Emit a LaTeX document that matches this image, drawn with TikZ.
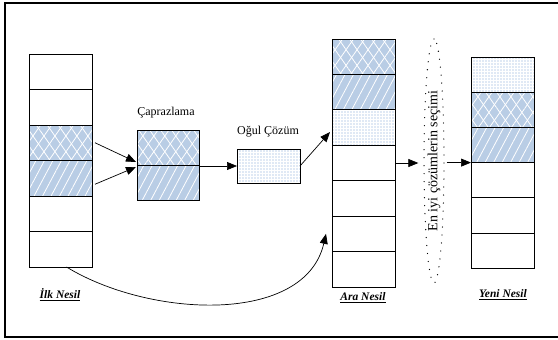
\documentclass[tikz,border=0pt]{standalone}
\usepackage{fontspec}
\setmainfont{Liberation Serif}
\usetikzlibrary{patterns.meta,arrows.meta,shapes.geometric,calc}
\definecolor{cellblue}{RGB}{185,205,229}
\definecolor{dotblue}{RGB}{120,158,212}
\begin{document}
\begin{tikzpicture}[x=1pt,y=-1pt,
  cell/.style={draw,line width=0.9pt,minimum width=63pt,minimum height=35.4pt,inner sep=0pt,outer sep=0pt},
  hatch/.style={preaction={fill=cellblue},
    preaction={pattern={Lines[angle=55,distance=9pt,line width=0.8pt]},pattern color=white},
    preaction={pattern={Lines[angle=-55,distance=9pt,line width=0.8pt]},pattern color=white}},
  diag/.style={preaction={fill=cellblue},
    preaction={pattern={Lines[angle=62,distance=7.5pt,line width=0.8pt]},pattern color=white}},
  dotty/.style={preaction={pattern={Dots[distance=3pt,radius=0.65pt]},pattern color=dotblue}},
  conn/.style={line width=0.7pt,-{Triangle[length=10pt,width=8pt]}},
  lbl/.style={font=\fontsize{11.5}{13}\selectfont\bfseries\itshape},
  txt/.style={font=\fontsize{12}{14}\selectfont}
]
\useasboundingbox (0,0) rectangle (558,340);
\draw[line width=2pt] (558,3) -- (5,3) -- (5,337) -- (558,337);

% Ilk Nesil
\foreach \i/\s in {1/,2/,3/hatch,4/diag,5/,6/}{
  \node[cell,minimum height=35.5pt,\s] (i\i) at (60.5,{54+(\i-0.5)*35.5}) {};
}
\node[lbl] (li) at (60,295) {\underline{İlk Nesil}};

% Caprazlama
\node[cell,minimum width=62pt,minimum height=35pt,hatch] (c1) at (168,147.5) {};
\node[cell,minimum width=62pt,minimum height=35pt,diag] (c2) at (168,182.5) {};
\node[txt] (lc) at (166,113) {Çaprazlama};

% Ogul Cozum
\node[cell,minimum width=63pt,minimum height=34pt,dotty] (og) at (268.5,166) {};
\node[txt] (lo) at (268,132) {Oğul Çözüm};

% Ara Nesil
\foreach \i/\s in {1/hatch,2/diag,3/dotty,4/,5/,6/,7/}{
  \node[cell,minimum height=35.43pt,\s] (a\i) at (363.5,{39+(\i-0.5)*35.43}) {};
}
\node[lbl] (la) at (363,298) {\underline{Ara Nesil}};

% Ellipse
\node[ellipse,draw,line width=1.3pt,dash pattern=on 0pt off 8pt,line cap=round,
  minimum width=244pt,minimum height=20pt,inner sep=0pt,rotate=90,
  font=\fontsize{14}{16}\selectfont] (el) at (434,161) {En iyi çözümlerin seçimi};

% Yeni Nesil
\foreach \i/\s in {1/dotty,2/hatch,3/diag,4/,5/,6/}{
  \node[cell,minimum height=35.2pt,\s] (y\i) at (502.5,{57+(\i-0.5)*35.2}) {};
}
\node[lbl] (ly) at (503,295) {\underline{Yeni Nesil}};

% connectors
\draw[conn] ($(i3.east)+(3,0)$) -- ($(c1.south west)+(-1,-3)$);
\draw[conn] ($(i4.east)+(3,6)$) -- ($(c2.north west)+(-1,2)$);
\draw[conn] (og.west -| c1.east) -- (og.west);
\draw[conn] (og.east) -- ($(a3.west)+(-2,4.5)$);
\draw[conn] ($(i6.south)+(6,0)$) .. controls (150,318) and (305,325) .. ($(a6.west)+(-6,0)$);
\draw[conn] (a4.east) -- ($(a4.east -| el.north)+(-5,0)$);
\draw[conn] ($(el.south |- y3.south)+(2,0)$) -- (y3.south west);
\end{tikzpicture}
\end{document}
